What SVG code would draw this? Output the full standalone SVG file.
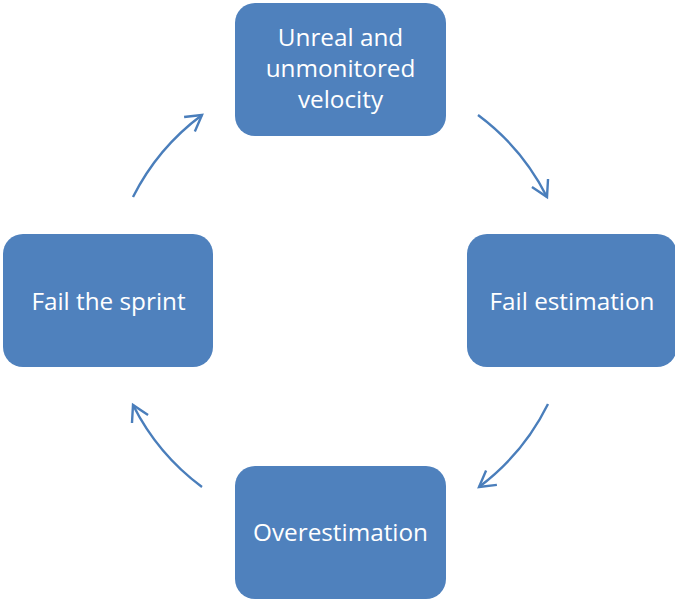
<svg xmlns="http://www.w3.org/2000/svg" width="675" height="601" viewBox="0 0 675 601">
  <style>
    .box { fill: #4F81BD; }
    .label { fill: #FFFFFF; font-family: "Open Sans", "Noto Sans", "Liberation Sans", sans-serif; font-size: 24.3px; text-anchor: middle; }
    .arc { fill: none; stroke: #4A7EBB; stroke-width: 2.4; marker-end: url(#head); }
  </style>
  <defs>
    <marker id="head" markerUnits="userSpaceOnUse" viewBox="-20 -12 24 24" markerWidth="24" markerHeight="24" refX="0" refY="0" orient="auto">
      <path d="M -15.6 -9 L 0 0 L -15.6 9" fill="none" stroke="#4A7EBB" stroke-width="2.4" stroke-linejoin="miter"/>
    </marker>
  </defs>
  <rect width="675" height="601" fill="#FFFFFF"/>

  <!-- cycle connectors: arcs on one circle around the centre -->
  <g id="connectors">
    <path class="arc" d="M 478 115 A 232 232 0 0 1 547 197"/>
    <path class="arc" d="M 548 404 A 232 232 0 0 1 479 487"/>
    <path class="arc" d="M 202 487 A 232 232 0 0 1 133 405"/>
    <path class="arc" d="M 133 197 A 232 232 0 0 1 202 115"/>
  </g>

  <g id="node-velocity">
    <rect class="box" x="235" y="3" width="211" height="133" rx="20"/>
    <text class="label" x="340.5" y="46">Unreal and</text>
    <text class="label" x="340.5" y="77">unmonitored</text>
    <text class="label" x="340.5" y="108">velocity</text>
  </g>

  <g id="node-fail-estimation">
    <rect class="box" x="467" y="234" width="210" height="133" rx="20"/>
    <text class="label" x="572" y="310">Fail estimation</text>
  </g>

  <g id="node-overestimation">
    <rect class="box" x="235" y="466" width="211" height="133" rx="20"/>
    <text class="label" x="340.5" y="541">Overestimation</text>
  </g>

  <g id="node-fail-sprint">
    <rect class="box" x="3" y="234" width="210" height="133" rx="20"/>
    <text class="label" x="108.5" y="310">Fail the sprint</text>
  </g>
</svg>
